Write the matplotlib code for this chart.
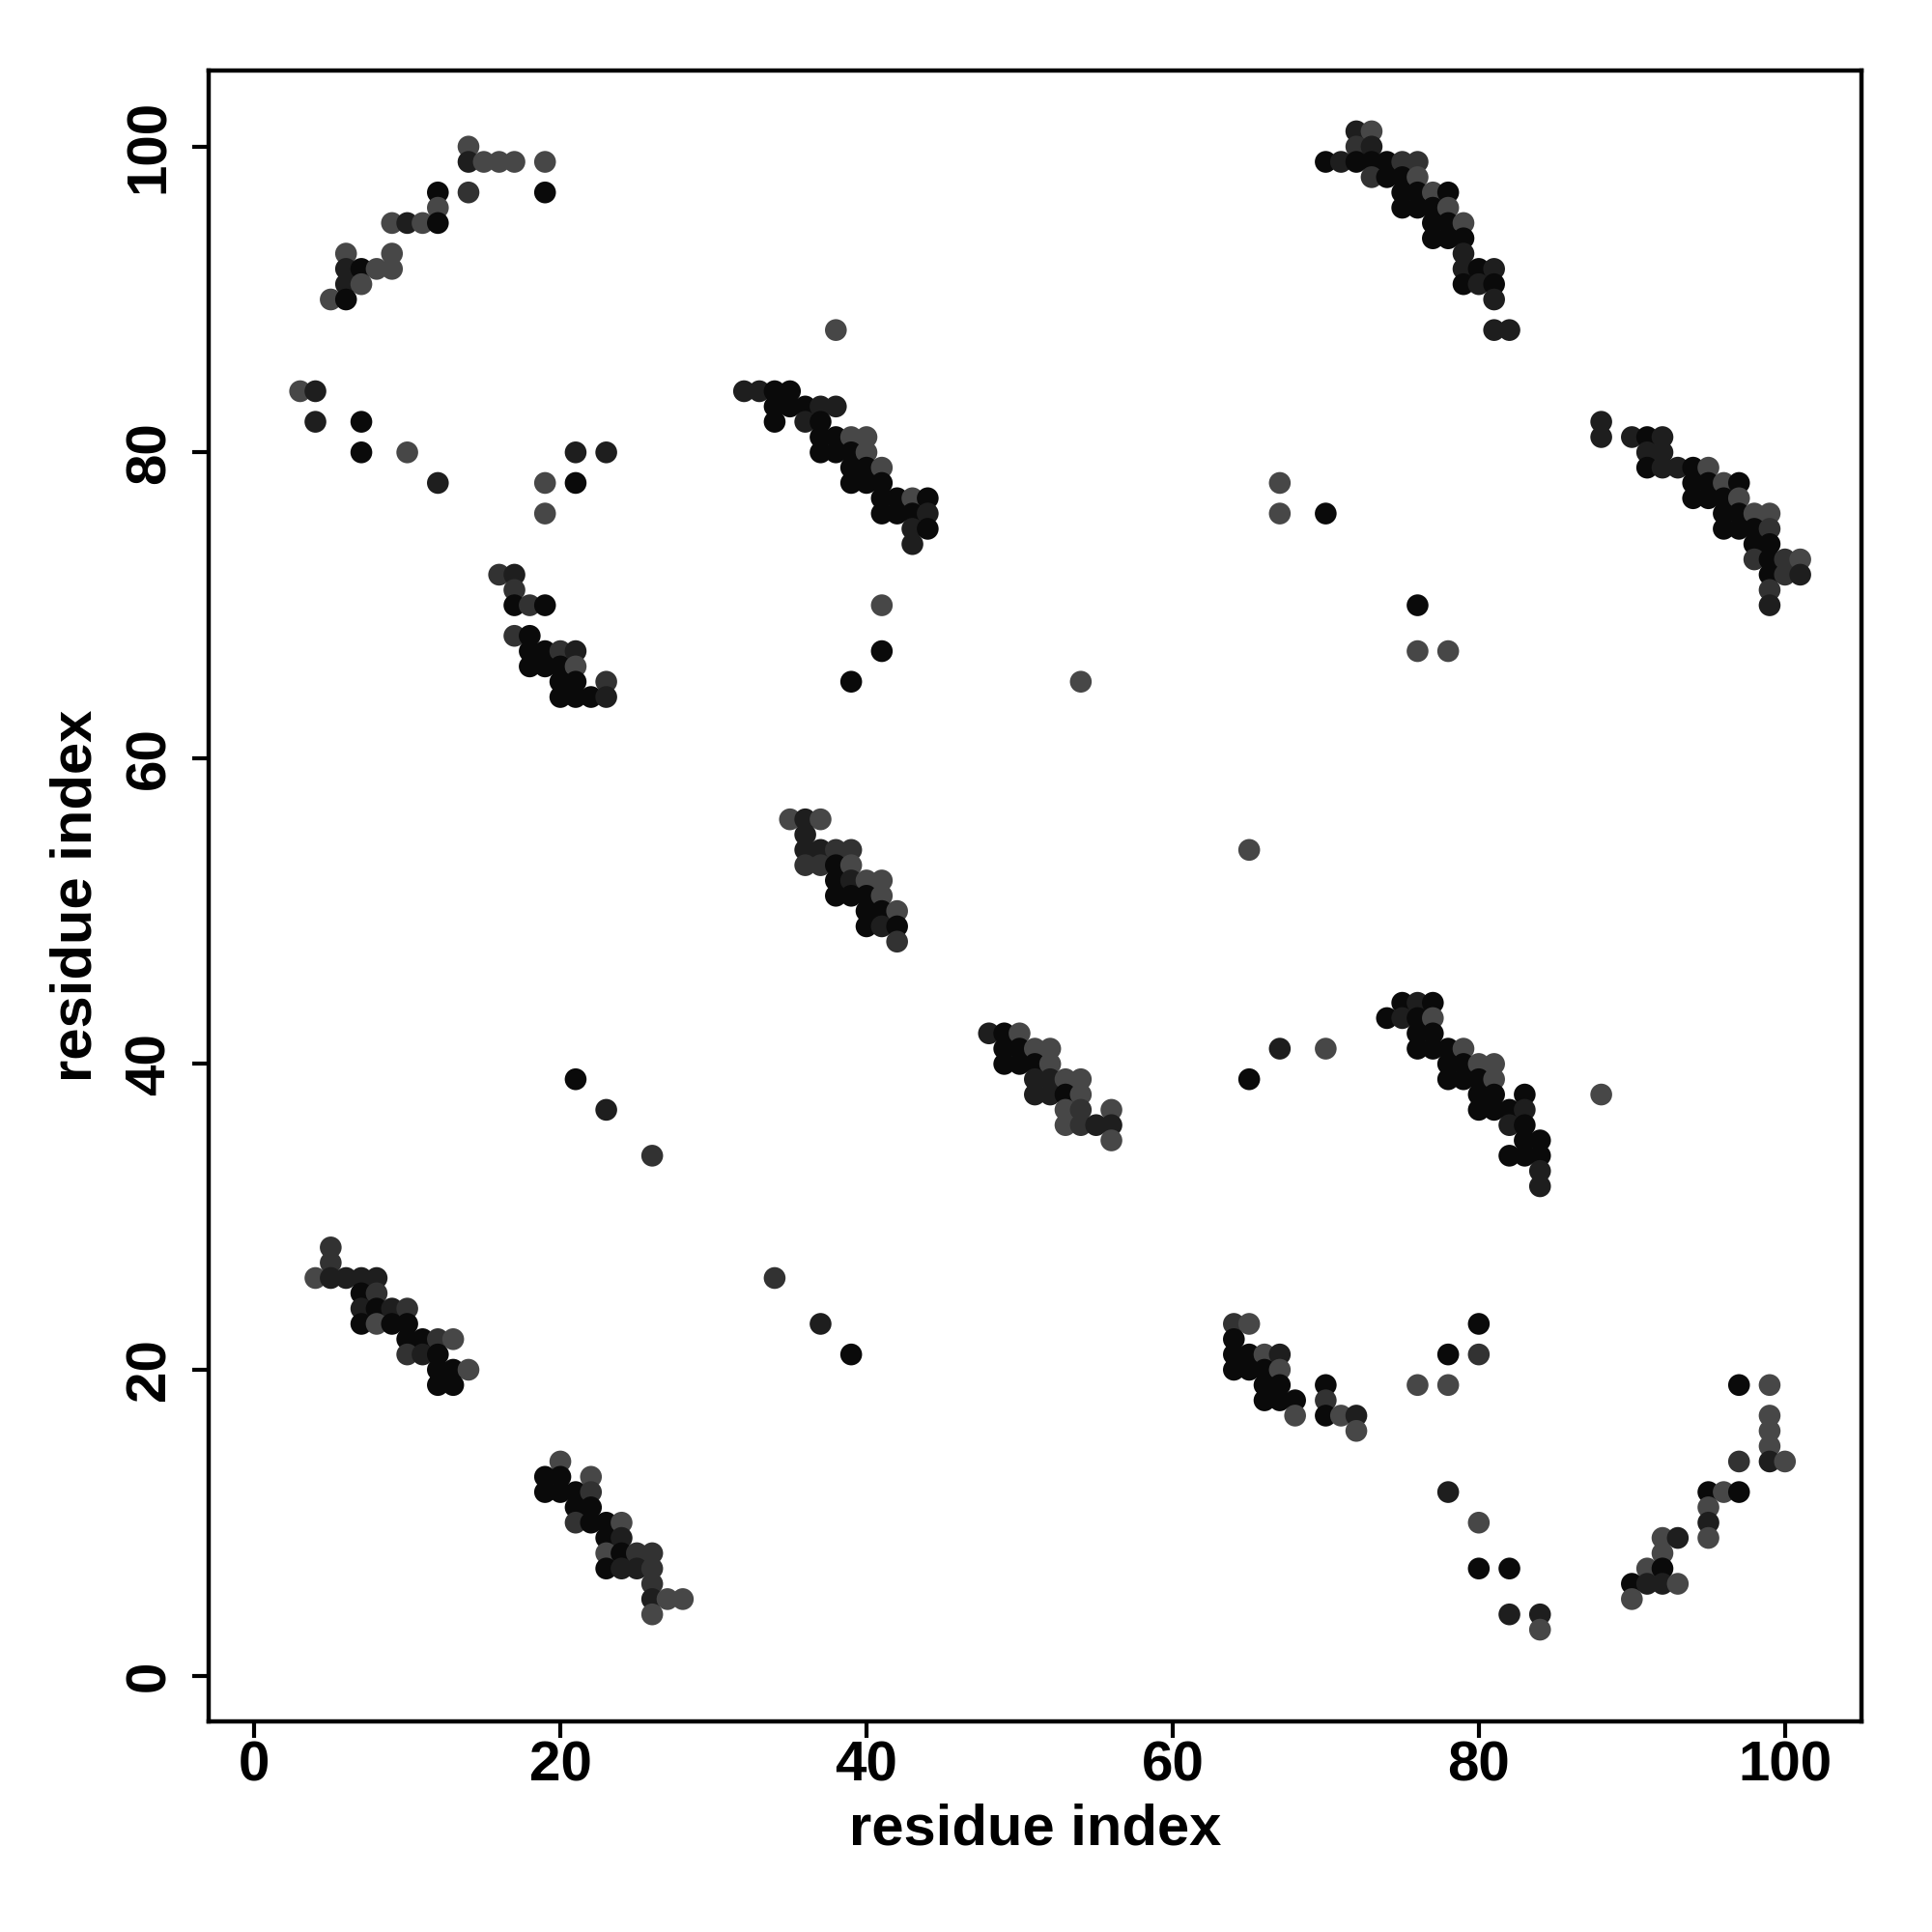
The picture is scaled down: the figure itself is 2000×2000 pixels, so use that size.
import matplotlib
matplotlib.use('Agg')
import matplotlib.pyplot as plt

# contacts: (residue i, residue j, shade level 0=black .. 3=grey)
arc_top_left = [
    (14, 100, 3), (14, 99, 1), (15, 99, 3), (16, 99, 3), (17, 99, 3), (19, 99, 3),
    (12, 97, 0), (14, 97, 2), (19, 97, 0), (12, 96, 3),
    (9, 95, 3), (10, 95, 1), (11, 95, 3), (12, 95, 0),
    (6, 93, 3), (9, 93, 3), (6, 92, 1), (7, 92, 0), (8, 92, 3), (9, 92, 3),
    (6, 91, 1), (7, 91, 3), (5, 90, 3), (6, 90, 0),
    (3, 84, 3), (4, 84, 1), (4, 82, 1), (7, 82, 0),
    (7, 80, 0), (10, 80, 3), (21, 80, 1), (23, 80, 1),
    (12, 78, 1), (19, 78, 3), (21, 78, 0), (19, 76, 3),
]
band_32_84 = [
    (38, 88, 3),
    (32, 84, 1), (33, 84, 1), (34, 84, 0), (35, 84, 0),
    (34, 83, 0), (35, 83, 0), (36, 83, 0), (37, 83, 1), (38, 83, 1),
    (34, 82, 0), (36, 82, 1), (37, 82, 0),
    (37, 81, 0), (38, 81, 0), (39, 81, 3), (40, 81, 3),
    (37, 80, 0), (38, 80, 0), (39, 80, 0), (40, 80, 3),
    (39, 79, 0), (40, 79, 0), (41, 79, 3),
    (39, 78, 0), (40, 78, 0), (41, 78, 0),
    (41, 77, 0), (42, 77, 0), (43, 77, 3), (44, 77, 0),
    (41, 76, 0), (42, 76, 0), (43, 76, 0), (44, 76, 1),
    (43, 75, 1), (44, 75, 0), (43, 74, 1),
]
band_16_72 = [
    (16, 72, 2), (17, 72, 1), (17, 71, 2), (17, 70, 0), (18, 70, 2), (19, 70, 0),
    (17, 68, 2), (18, 68, 0),
    (18, 67, 0), (19, 67, 0), (20, 67, 2), (21, 67, 1),
    (18, 66, 0), (19, 66, 0), (20, 66, 0), (21, 66, 3),
    (20, 65, 0), (21, 65, 0), (23, 65, 2),
    (20, 64, 0), (21, 64, 0), (22, 64, 0), (23, 64, 1),
]
band_35_56 = [
    (35, 56, 3), (36, 56, 1), (37, 56, 3), (36, 55, 1),
    (36, 54, 1), (37, 54, 1), (38, 54, 2), (39, 54, 2),
    (36, 53, 2), (37, 53, 2), (38, 53, 0), (39, 53, 3),
    (38, 52, 0), (39, 52, 1), (40, 52, 3), (41, 52, 3),
    (38, 51, 0), (39, 51, 0), (40, 51, 0), (41, 51, 3),
    (40, 50, 0), (41, 50, 0), (42, 50, 3),
    (40, 49, 0), (41, 49, 1), (42, 49, 0), (42, 48, 2),
]
band_48_42 = [
    (48, 42, 1), (49, 42, 0), (50, 42, 3),
    (49, 41, 0), (50, 41, 0), (51, 41, 3), (52, 41, 3),
    (49, 40, 0), (50, 40, 0), (51, 40, 0), (52, 40, 3),
    (51, 39, 1), (52, 39, 1), (53, 39, 3), (54, 39, 3),
    (51, 38, 1), (52, 38, 1), (53, 38, 0), (54, 38, 3),
    (53, 37, 3), (54, 37, 2), (56, 37, 3),
    (53, 36, 3), (54, 36, 2), (55, 36, 1), (56, 36, 1), (56, 35, 3),
]
band_70_99 = [
    (72, 101, 1), (73, 101, 3), (72, 100, 2), (73, 100, 1),
    (70, 99, 0), (71, 99, 1), (72, 99, 0), (73, 99, 0), (74, 99, 0), (75, 99, 2), (76, 99, 2),
    (73, 98, 2), (74, 98, 0), (75, 98, 0), (76, 98, 3),
    (75, 97, 0), (76, 97, 0), (77, 97, 3), (78, 97, 0),
    (75, 96, 0), (76, 96, 0), (77, 96, 0), (78, 96, 3),
    (77, 95, 0), (78, 95, 0), (79, 95, 3),
    (77, 94, 0), (78, 94, 0), (79, 94, 0), (79, 93, 1),
    (79, 92, 1), (80, 92, 0), (81, 92, 1),
    (79, 91, 0), (80, 91, 1), (81, 91, 0),
    (81, 90, 1), (81, 88, 1), (82, 88, 1),
]
band_88_82 = [
    (88, 82, 1), (88, 81, 1), (90, 81, 1), (91, 81, 0), (92, 81, 1),
    (91, 80, 1), (92, 80, 1),
    (91, 79, 0), (92, 79, 1), (93, 79, 1), (94, 79, 0), (95, 79, 3),
    (94, 78, 0), (95, 78, 0), (96, 78, 3), (97, 78, 0),
    (94, 77, 0), (95, 77, 0), (96, 77, 0), (97, 77, 3),
    (96, 76, 0), (97, 76, 0), (98, 76, 3), (99, 76, 3),
    (96, 75, 0), (97, 75, 0), (98, 75, 0), (99, 75, 2),
    (98, 74, 0), (99, 74, 0),
    (98, 73, 2), (99, 73, 0), (100, 73, 2), (101, 73, 3),
    (99, 72, 0), (100, 72, 2), (101, 72, 1),
    (99, 71, 2), (99, 70, 1),
]
band_74_43 = [
    (75, 44, 0), (76, 44, 1), (77, 44, 0),
    (74, 43, 0), (75, 43, 1), (76, 43, 0), (77, 43, 3),
    (76, 42, 0), (77, 42, 0),
    (76, 41, 0), (77, 41, 0), (78, 41, 0), (79, 41, 3),
    (78, 40, 0), (79, 40, 0), (80, 40, 3), (81, 40, 3),
    (78, 39, 0), (79, 39, 0), (80, 39, 0), (81, 39, 3),
    (80, 38, 0), (81, 38, 0), (83, 38, 0),
    (80, 37, 0), (81, 37, 0), (82, 37, 0), (83, 37, 1),
    (82, 36, 1), (83, 36, 0), (83, 35, 0), (84, 35, 0),
    (82, 34, 0), (83, 34, 0), (84, 34, 0), (84, 33, 1), (84, 32, 1),
]
band_4_26 = [
    (5, 28, 2), (5, 27, 2),
    (4, 26, 3), (5, 26, 1), (6, 26, 1), (7, 26, 1), (8, 26, 1),
    (7, 25, 0), (8, 25, 2),
    (7, 24, 1), (8, 24, 0), (9, 24, 1), (10, 24, 2),
    (7, 23, 0), (8, 23, 3), (9, 23, 0), (10, 23, 0),
    (10, 22, 0), (11, 22, 0), (12, 22, 2), (13, 22, 3),
    (10, 21, 2), (11, 21, 1), (12, 21, 0),
    (12, 20, 0), (13, 20, 0), (14, 20, 3),
    (12, 19, 0), (13, 19, 0),
]
band_19_13 = [
    (20, 14, 3), (19, 13, 0), (20, 13, 0), (22, 13, 3),
    (19, 12, 0), (20, 12, 0), (21, 12, 0), (22, 12, 2),
    (21, 11, 0), (22, 11, 0),
    (21, 10, 2), (22, 10, 0), (23, 10, 0), (24, 10, 3),
    (23, 9, 0), (24, 9, 1),
    (23, 8, 3), (24, 8, 0), (25, 8, 2), (26, 8, 2),
    (23, 7, 0), (24, 7, 1), (25, 7, 1), (26, 7, 2),
    (26, 6, 2), (26, 5, 1), (27, 5, 3), (28, 5, 3), (26, 4, 3),
]
band_64_22 = [
    (64, 23, 2), (65, 23, 3), (64, 22, 0),
    (64, 21, 0), (65, 21, 0), (66, 21, 3), (67, 21, 1),
    (64, 20, 0), (65, 20, 0), (66, 20, 0), (67, 20, 3),
    (66, 19, 0), (67, 19, 0), (70, 19, 0),
    (66, 18, 0), (67, 18, 0), (68, 18, 0), (70, 18, 2),
    (68, 17, 3), (70, 17, 0), (71, 17, 3), (72, 17, 1), (72, 16, 3),
]
arc_bottom_right = [
    (80, 23, 0), (78, 21, 0), (80, 21, 2), (76, 19, 3), (78, 19, 3), (97, 19, 0), (99, 19, 3),
    (99, 17, 3), (99, 16, 3), (99, 15, 3),
    (97, 14, 2), (99, 14, 1), (100, 14, 3),
    (78, 12, 1), (95, 12, 0), (96, 12, 3), (97, 12, 0), (95, 11, 3),
    (80, 10, 3), (95, 10, 1),
    (92, 9, 3), (93, 9, 1), (95, 9, 3), (92, 8, 3),
    (80, 7, 0), (82, 7, 0), (91, 7, 3), (92, 7, 0),
    (90, 6, 0), (91, 6, 1), (92, 6, 1), (93, 6, 3),
    (90, 5, 3), (82, 4, 1), (84, 4, 1), (84, 3, 3),
]
singles = [
    (41, 70, 3), (41, 67, 0), (39, 65, 0), (54, 65, 3),
    (67, 78, 3), (67, 76, 3), (70, 76, 0), (76, 70, 0), (76, 67, 3), (78, 67, 3),
    (65, 54, 3), (65, 39, 0), (67, 41, 1), (70, 41, 3), (88, 38, 3),
    (21, 39, 0), (23, 37, 1), (26, 34, 2),
    (34, 26, 2), (37, 23, 1), (39, 21, 0),
]

shade_colors = ['#0a0a0a', '#1e1e1e', '#323232', '#474747']
ticks = [0, 20, 40, 60, 80, 100]

contacts = (arc_top_left + band_32_84 + band_16_72 + band_35_56 + band_48_42
            + band_70_99 + band_88_82 + band_74_43 + band_4_26 + band_19_13
            + band_64_22 + arc_bottom_right + singles)
res_i = [c[0] for c in contacts]
res_j = [c[1] for c in contacts]
colors = [shade_colors[c[2]] for c in contacts]

plt.rcParams['font.family'] = ['Liberation Sans', 'DejaVu Sans']
plt.rcParams['font.weight'] = 'bold'

fig = plt.figure(figsize=(10, 10), dpi=200)
ax = fig.add_axes([0.1078, 0.109, 0.8557, 0.8547])
ax.scatter(res_i, res_j, s=66, c=colors, linewidths=0)

ax.set_xlim(-3, 105)
ax.set_ylim(-3, 105)
ax.set_xticks(ticks)
ax.set_yticks(ticks)
ax.tick_params(axis='both', length=6, width=1.5, labelsize=21)
ax.tick_params(axis='x', pad=1)
ax.tick_params(axis='y', pad=6, labelrotation=90)
for lab in ax.get_yticklabels():
    lab.set_verticalalignment('center')
for sp in ax.spines.values():
    sp.set_linewidth(1.6)

ax.set_xlabel('residue index', fontsize=21.5, fontweight='bold', labelpad=4)
ax.set_ylabel('residue index', fontsize=21.5, fontweight='bold', labelpad=8)

fig.savefig('out.png', dpi=200)
